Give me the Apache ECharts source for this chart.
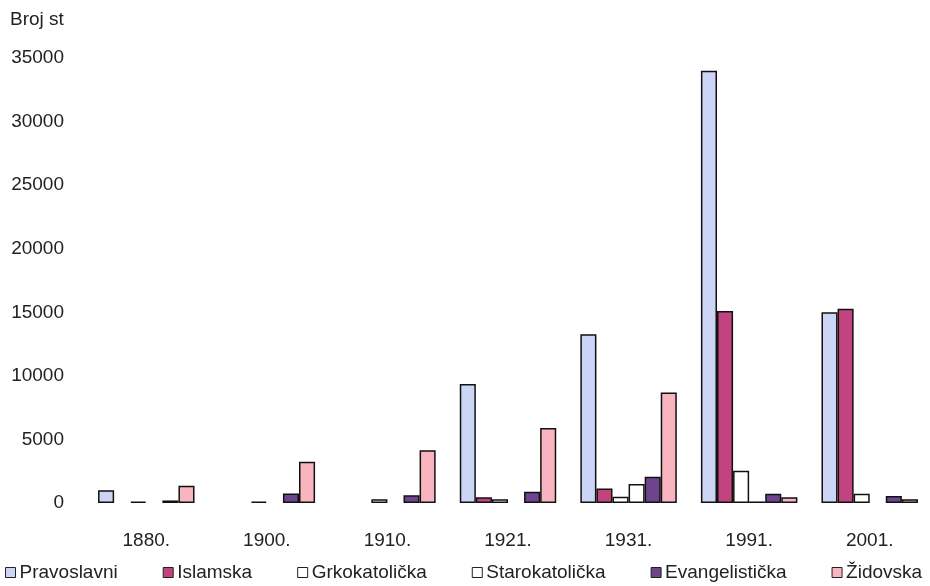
<!DOCTYPE html>
<html>
<head>
<meta charset="utf-8">
<script src="https://cdn.jsdelivr.net/npm/echarts@6/dist/echarts.min.js"></script>
<style>
html,body{margin:0;padding:0;background:#fff;}
#c{width:930px;height:586px;}
</style>
</head>
<body>
<div id="c"></div>
<script>
const categories = ['1880.', '1900.', '1910.', '1921.', '1931.', '1991.', '2001.'];
const seriesNames = ['Pravoslavni', 'Islamska', 'Grkokatolička', 'Starokatolička', 'Evangelistička', 'Židovska'];
const pravoslavni     = [1000, '-', '-', 9350, 13270, 34000, 15000];
const islamska        = ['-', '-', '-', 450, 1150, 15100, 15280];
const grkokatolicka   = [100, 100, 300, 300, 500, 2530, 720];
const starokatolicka  = ['-', '-', '-', '-', 1500, 120, '-'];
const evangelisticka  = [200, 750, 600, 880, 2070, 720, 550];
const zidovska        = [1350, 3250, 4150, 5900, 8700, 450, 300];
const yTicks = [0, 5000, 10000, 15000, 20000, 25000, 30000, 35000];

const seriesData = [pravoslavni, islamska, grkokatolicka, starokatolicka, evangelisticka, zidovska];
const colors = ['#ccd5f5', '#c2447f', '#ffffff', '#ffffff', '#6f448f', '#f8b5c0'];
const FONT = "'Liberation Sans', Arial, sans-serif";
const FS = 19;

const chart = echarts.init(document.getElementById('c'), null, {renderer: 'canvas'});
chart.setOption({
  animation: false,
  backgroundColor: '#ffffff',
  textStyle: {fontFamily: FONT},
  title: {
    text: 'Broj st', left: 10, top: 10, padding: 0,
    textStyle: {fontFamily: FONT, fontSize: FS, fontWeight: 'normal', color: '#222'}
  },
  legend: {
    data: seriesNames,
    left: 5, bottom: 4, padding: 0,
    icon: 'rect', itemWidth: 10, itemHeight: 10, itemGap: 45,
    textStyle: {fontFamily: FONT, fontSize: FS, color: '#222', padding: [0,0,0,-1]},
    itemStyle: {borderColor: '#222', borderWidth: 1}
  },
  grid: {left: 86, top: 58, bottom: 83, width: 853},
  xAxis: {
    type: 'category', data: categories,
    axisLine: {show: false}, axisTick: {show: false},
    axisLabel: {fontFamily: FONT, fontSize: FS, color: '#222', margin: 28}
  },
  yAxis: {
    type: 'value', min: yTicks[0], max: yTicks[yTicks.length - 1], interval: 5000,
    axisLine: {show: false}, axisTick: {show: false}, splitLine: {show: false},
    axisLabel: {fontFamily: FONT, fontSize: FS, color: '#222', margin: 22,
      formatter: v => String(v)}
  },
  series: seriesNames.map((n, i) => ({
    name: n, type: 'bar', data: seriesData[i],
    barGap: '0%', barCategoryGap: '20%',
    itemStyle: {color: colors[i], borderColor: '#111', borderWidth: 1.5}
  }))
});
</script>
</body>
</html>
